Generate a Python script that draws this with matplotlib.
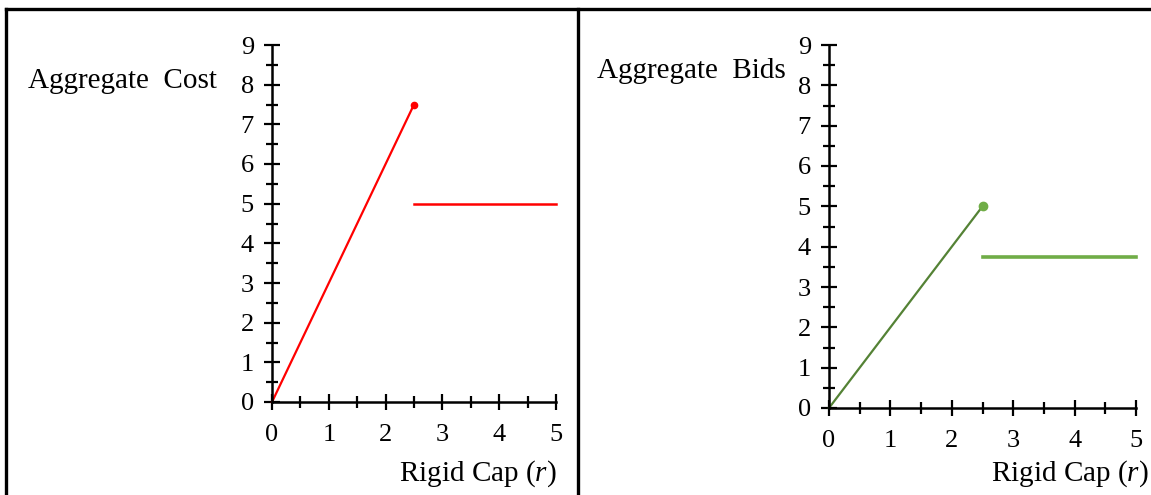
import matplotlib.pyplot as plt
from matplotlib.lines import Line2D
from matplotlib.ticker import MultipleLocator

plt.rcParams['font.family'] = ['Liberation Serif', 'DejaVu Serif']
plt.rcParams['mathtext.fontset'] = 'custom'
plt.rcParams['mathtext.it'] = 'Liberation Serif:italic'
plt.rcParams['mathtext.rm'] = 'Liberation Serif'

# data
cap_rising = [0, 2.5]
cost_rising = [0, 7.5]
cap_flat = [2.5, 5]
cost_flat = [5, 5]

bids_rising = [0, 5]
bids_flat = [3.75, 3.75]

W, H = 1151, 495
fig = plt.figure(figsize=(W / 100, H / 100), dpi=100)


def frac(x0, y0, x1, y1):
    # pixel box -> figure fraction [left, bottom, width, height]
    return [x0 / W, 1 - y1 / H, (x1 - x0) / W, (y1 - y0) / H]


def style_axes(ax):
    ax.set_xlim(0, 5)
    ax.set_ylim(0, 9)
    for s in ['top', 'right']:
        ax.spines[s].set_visible(False)
    for s in ['left', 'bottom']:
        ax.spines[s].set_linewidth(1.8)
    ax.xaxis.set_major_locator(MultipleLocator(1))
    ax.xaxis.set_minor_locator(MultipleLocator(0.5))
    ax.yaxis.set_major_locator(MultipleLocator(1))
    ax.yaxis.set_minor_locator(MultipleLocator(0.5))
    ax.tick_params(which='major', direction='inout', length=12, width=1.6,
                   labelsize=19)
    ax.tick_params(axis='y', which='major', pad=7)
    ax.tick_params(axis='x', which='major', pad=10)
    ax.tick_params(which='minor', direction='inout', length=8, width=1.6)
    ax.patch.set_alpha(0)


# left panel
ax1 = fig.add_axes(frac(272, 45, 556, 402))
style_axes(ax1)
ax1.plot(cap_rising, cost_rising, color='#ff0000', lw=1.6, clip_on=False)
ax1.plot(cap_rising[-1:], cost_rising[-1:], 'o', color='#ff0000', ms=4.5, clip_on=False)
ax1.plot(cap_flat, cost_flat, color='#ff0000', lw=1.8, clip_on=False)
fig.text(28 / W, 1 - 81 / H, 'Aggregate  Cost', fontsize=21, va='center', ha='left')
fig.text(557 / W, 1 - 474 / H, 'Rigid Cap ($r$)', fontsize=21, va='center', ha='right')

# right panel
ax2 = fig.add_axes(frac(829, 45, 1136, 408))
style_axes(ax2)
ax2.plot(cap_rising, bids_rising, color='#548235', lw=1.6, clip_on=False)
ax2.plot(cap_rising[-1:], bids_rising[-1:], 'o', color='#70ad47', ms=6, clip_on=False)
ax2.plot(cap_flat, bids_flat, color='#70ad47', lw=2.6, clip_on=False)
fig.text(597 / W, 1 - 71 / H, 'Aggregate  Bids', fontsize=21, va='center', ha='left')
fig.text(1149 / W, 1 - 474 / H, 'Rigid Cap ($r$)', fontsize=21, va='center', ha='right')

# table borders
lw = 2.4
fig.add_artist(Line2D([6 / W, 1], [1 - 9 / H, 1 - 9 / H], color='black', lw=lw))
fig.add_artist(Line2D([6 / W, 6 / W], [0, 1 - 9 / H], color='black', lw=lw))
fig.add_artist(Line2D([578 / W, 578 / W], [0, 1 - 9 / H], color='black', lw=lw))

fig.savefig('out.png', dpi=100)
